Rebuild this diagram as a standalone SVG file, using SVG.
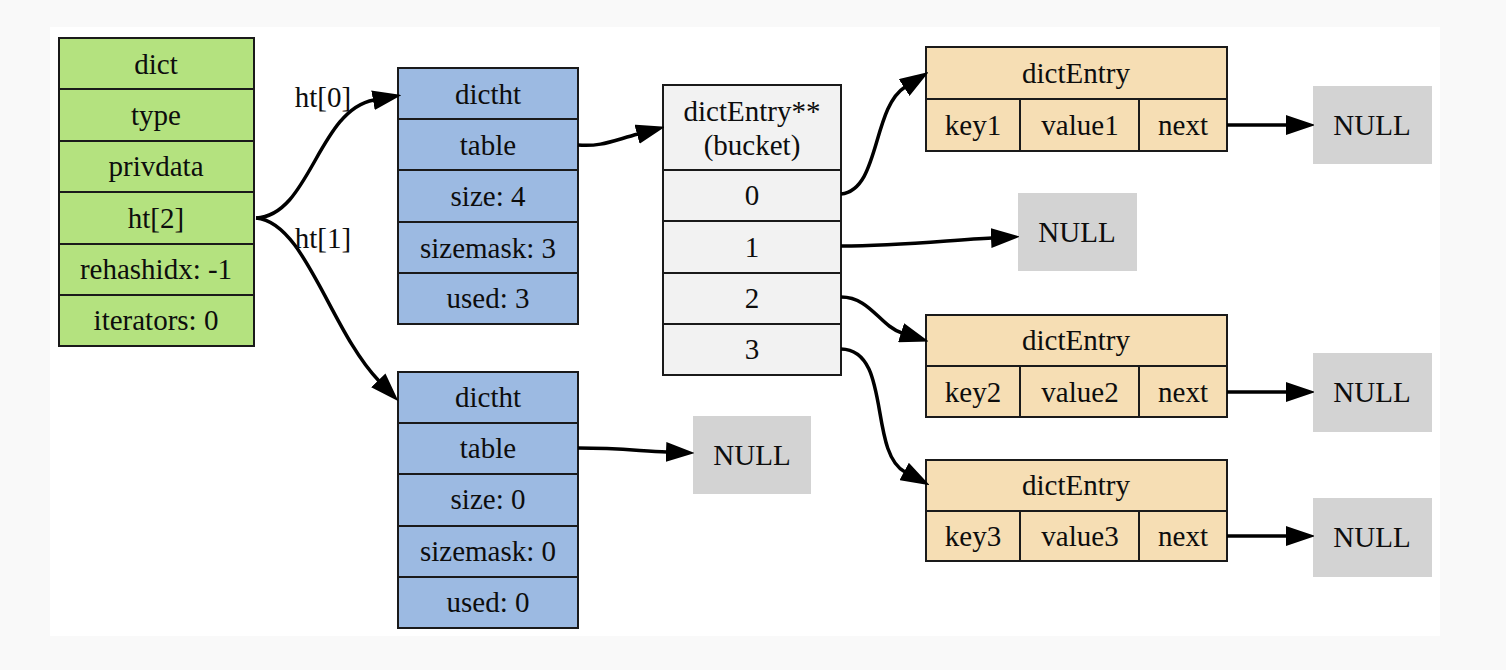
<svg xmlns="http://www.w3.org/2000/svg" width="1506" height="670" viewBox="0 0 1506 670">
<defs>
<marker id="ah" markerUnits="userSpaceOnUse" markerWidth="28" markerHeight="20" refX="1" refY="10" orient="auto" viewBox="0 0 28 20">
<path d="M1,1.5 L26,10 L1,18.5 z" fill="#000" stroke="#000" stroke-width="2"/>
</marker>
</defs>
<style>
text{font-family:"Liberation Serif","Times New Roman",serif;font-size:29px;fill:#0d0d0d;text-anchor:middle;dominant-baseline:central}
.box{stroke:#1a1a1a;stroke-width:2}
.g{fill:#b4e27f}
.b{fill:#9cbae2}
.w{fill:#f2f2f2}
.e{fill:#f6deb4}
.n{fill:#d3d3d3}
.sep{stroke:#1a1a1a;stroke-width:2}
.edge{fill:none;stroke:#000;stroke-width:3.5;marker-end:url(#ah)}
</style>
<rect x="0" y="0" width="1506" height="670" fill="#f9f9f9"/>
<rect x="50" y="27" width="1390" height="609" fill="#ffffff"/>

<g id="dict">
<rect class="box g" x="59" y="38" width="195" height="308"/>
<line class="sep" x1="59" y1="89" x2="254" y2="89"/>
<line class="sep" x1="59" y1="141" x2="254" y2="141"/>
<line class="sep" x1="59" y1="192" x2="254" y2="192"/>
<line class="sep" x1="59" y1="244" x2="254" y2="244"/>
<line class="sep" x1="59" y1="295" x2="254" y2="295"/>
<text x="156" y="64">dict</text>
<text x="156" y="115">type</text>
<text x="156" y="166">privdata</text>
<text x="156" y="218">ht[2]</text>
<text x="156" y="269">rehashidx: -1</text>
<text x="156" y="320">iterators: 0</text>
</g>

<g id="dictht0">
<rect class="box b" x="398" y="68" width="180" height="256"/>
<line class="sep" x1="398" y1="119" x2="578" y2="119"/>
<line class="sep" x1="398" y1="170" x2="578" y2="170"/>
<line class="sep" x1="398" y1="222" x2="578" y2="222"/>
<line class="sep" x1="398" y1="273" x2="578" y2="273"/>
<text x="488" y="94">dictht</text>
<text x="488" y="145">table</text>
<text x="488" y="196">size: 4</text>
<text x="488" y="248">sizemask: 3</text>
<text x="488" y="298">used: 3</text>
</g>

<g id="dictht1">
<rect class="box b" x="398" y="372" width="180" height="256"/>
<line class="sep" x1="398" y1="423" x2="578" y2="423"/>
<line class="sep" x1="398" y1="474" x2="578" y2="474"/>
<line class="sep" x1="398" y1="526" x2="578" y2="526"/>
<line class="sep" x1="398" y1="577" x2="578" y2="577"/>
<text x="488" y="397">dictht</text>
<text x="488" y="448">table</text>
<text x="488" y="499">size: 0</text>
<text x="488" y="551">sizemask: 0</text>
<text x="488" y="602">used: 0</text>
</g>

<g id="bucket">
<rect class="box w" x="663" y="85" width="178" height="290"/>
<line class="sep" x1="663" y1="170" x2="841" y2="170"/>
<line class="sep" x1="663" y1="221" x2="841" y2="221"/>
<line class="sep" x1="663" y1="273" x2="841" y2="273"/>
<line class="sep" x1="663" y1="324" x2="841" y2="324"/>
<text x="752" y="111">dictEntry**</text>
<text x="752" y="145">(bucket)</text>
<text x="752" y="195">0</text>
<text x="752" y="247">1</text>
<text x="752" y="298">2</text>
<text x="752" y="349">3</text>
</g>

<g id="entry1">
<rect class="box e" x="926" y="47" width="301" height="104"/>
<line class="sep" x1="926" y1="99" x2="1227" y2="99"/>
<line class="sep" x1="1020" y1="99" x2="1020" y2="151"/>
<line class="sep" x1="1139" y1="99" x2="1139" y2="151"/>
<text x="1076" y="73">dictEntry</text>
<text x="973" y="125">key1</text>
<text x="1080" y="125">value1</text>
<text x="1183" y="125">next</text>
</g>

<g id="entry2">
<rect class="box e" x="926" y="315" width="301" height="102"/>
<line class="sep" x1="926" y1="366" x2="1227" y2="366"/>
<line class="sep" x1="1020" y1="366" x2="1020" y2="417"/>
<line class="sep" x1="1139" y1="366" x2="1139" y2="417"/>
<text x="1076" y="340">dictEntry</text>
<text x="973" y="392">key2</text>
<text x="1080" y="392">value2</text>
<text x="1183" y="392">next</text>
</g>

<g id="entry3">
<rect class="box e" x="926" y="460" width="301" height="101"/>
<line class="sep" x1="926" y1="511" x2="1227" y2="511"/>
<line class="sep" x1="1020" y1="511" x2="1020" y2="561"/>
<line class="sep" x1="1139" y1="511" x2="1139" y2="561"/>
<text x="1076" y="485">dictEntry</text>
<text x="973" y="536">key3</text>
<text x="1080" y="536">value3</text>
<text x="1183" y="536">next</text>
</g>

<g id="null1"><rect class="n" x="1313" y="86" width="119" height="78"/><text x="1372" y="125">NULL</text></g>
<g id="null2"><rect class="n" x="1018" y="193" width="119" height="78"/><text x="1077" y="232">NULL</text></g>
<g id="null3"><rect class="n" x="693" y="416" width="118" height="78"/><text x="752" y="455">NULL</text></g>
<g id="null4"><rect class="n" x="1313" y="353" width="119" height="79"/><text x="1372" y="392">NULL</text></g>
<g id="null5"><rect class="n" x="1313" y="498" width="119" height="79"/><text x="1372" y="537">NULL</text></g>

<g id="edges">
<path class="edge" d="M256,218 C310,216 318,110 374,100"/>
<path class="edge" d="M256,218 C305,222 330,330 379,381"/>
<path class="edge" d="M578,145 C600,147 612,141 638,134"/>
<path class="edge" d="M841,194 C880,190 872,108 905,87"/>
<path class="edge" d="M841,246 C900,246 950,240 992,238"/>
<path class="edge" d="M841,297 C870,297 880,326 902,333"/>
<path class="edge" d="M841,349 C892,350 868,452 905,472"/>
<path class="edge" d="M578,448 C620,448 640,451 667,452"/>
<path class="edge" d="M1227,125 L1287,125"/>
<path class="edge" d="M1227,392 L1287,392"/>
<path class="edge" d="M1227,536 L1287,536"/>
<text x="323" y="97">ht[0]</text>
<text x="323" y="238">ht[1]</text>
</g>
</svg>
